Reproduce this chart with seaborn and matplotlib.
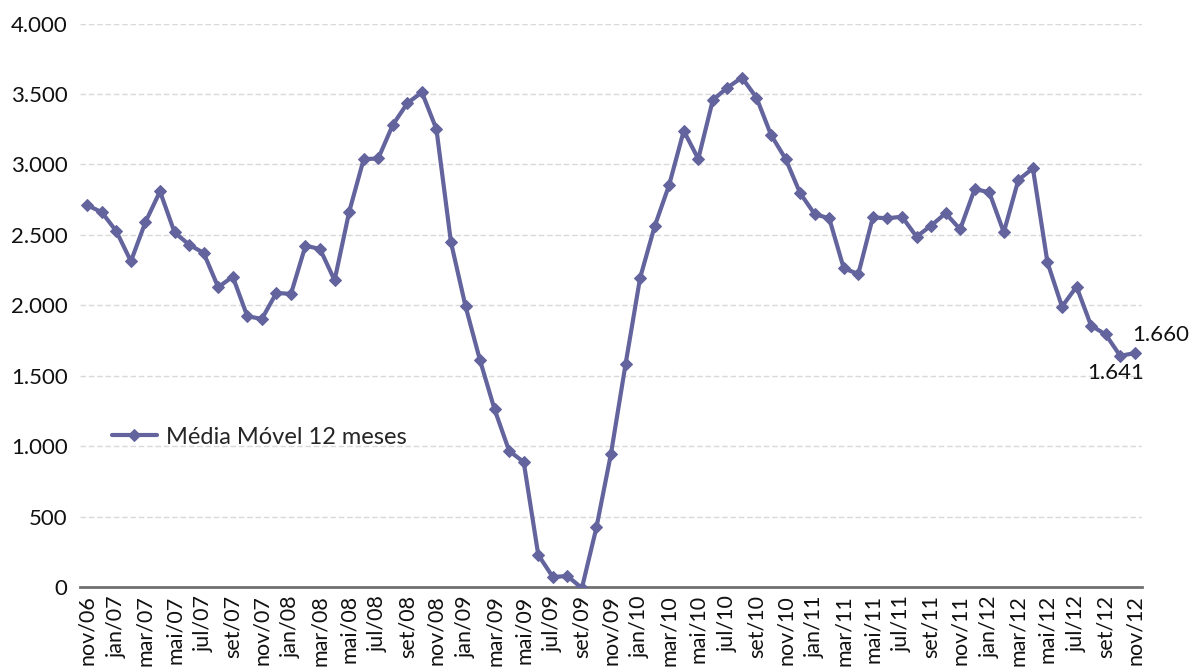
import matplotlib
matplotlib.use("Agg")
import matplotlib.pyplot as plt
import seaborn as sns
import numpy as np
import pandas as pd

# Data: 12-month moving average, nov/06 .. nov/12
months_pt = ["jan", "fev", "mar", "abr", "mai", "jun", "jul", "ago", "set", "out", "nov", "dez"]
values = [
    2710, 2660, 2525, 2312, 2591, 2808, 2517, 2430, 2371, 2128, 2203, 1922,
    1903, 2088, 2080, 2423, 2399, 2177, 2662, 3037, 3042, 3280, 3434, 3512,
    3250, 2447, 1993, 1608, 1260, 966, 887, 228, 71, 78, -8, 423,
    947, 1581, 2194, 2560, 2855, 3238, 3039, 3457, 3545, 3616, 3474, 3209,
    3039, 2796, 2647, 2617, 2262, 2222, 2624, 2617, 2629, 2487, 2565, 2653,
    2539, 2825, 2802, 2518, 2889, 2972, 2305, 1990, 2132, 1855, 1793, 1641,
    1660,
]
series_name = "Média Móvel 12 meses"
yticks = [0, 500, 1000, 1500, 2000, 2500, 3000, 3500, 4000]

# Build month labels
labels = []
m, y = 10, 6  # nov/06 (0-based month index 10)
for _ in range(len(values)):
    labels.append(f"{months_pt[m]}/{y:02d}")
    m += 1
    if m == 12:
        m = 0
        y += 1

df = pd.DataFrame({"idx": np.arange(len(values)), "valor": values, "mes": labels})

sns.set_theme(style="white")
plt.rcParams["font.family"] = ["Lato", "DejaVu Sans"]

color = "#63639d"
fig = plt.figure(figsize=(11.89, 6.70), dpi=100)
ax = fig.add_axes([80 / 1189, 83 / 670, (1142 - 80) / 1189, (587 - 23.5) / 670])

sns.lineplot(data=df, x="idx", y="valor", ax=ax, color=color, linewidth=3,
             marker="D", markersize=6.5, markeredgecolor=color, markerfacecolor=color,
             label=series_name)

ax.set_xlim(-0.5, len(values) - 0.5)
ax.set_ylim(0, 4000)
ax.set_yticks(yticks)
ax.set_yticklabels([f"{v:,}".replace(",", ".") for v in yticks], fontsize=16, color="#111111")
ax.set_xticks(df["idx"][::2])
ax.set_xticklabels(df["mes"][::2], rotation=90, fontsize=15.5, color="#111111")
ax.tick_params(axis="y", length=0, pad=9)
ax.tick_params(axis="x", length=0, pad=6)
ax.set_xlabel("")
ax.set_ylabel("")

ax.yaxis.grid(True, color="#d9d9d9", linestyle=(0, (4, 2)), linewidth=1)
ax.set_axisbelow(True)
for s in ["top", "right", "left"]:
    ax.spines[s].set_visible(False)
ax.spines["bottom"].set_color("#707070")
ax.spines["bottom"].set_linewidth(2)
ax.spines["bottom"].set_zorder(1)

leg = ax.legend(loc="center left", bbox_to_anchor=(0.01, 0.266), frameon=False,
                fontsize=17, handlelength=1.9, handletextpad=0.4)

n = len(values)
ax.annotate(f"{values[-1]:,}".replace(",", "."), (n - 1, values[-1]),
            xytext=(-2, 6), textcoords="offset points", ha="left", va="bottom",
            fontsize=16, color="#111111")
ax.annotate(f"{values[-2]:,}".replace(",", "."), (n - 2, values[-2]),
            xytext=(-3, -5), textcoords="offset points", ha="center", va="top",
            fontsize=16, color="#111111")

fig.savefig("out.png", dpi=100)
